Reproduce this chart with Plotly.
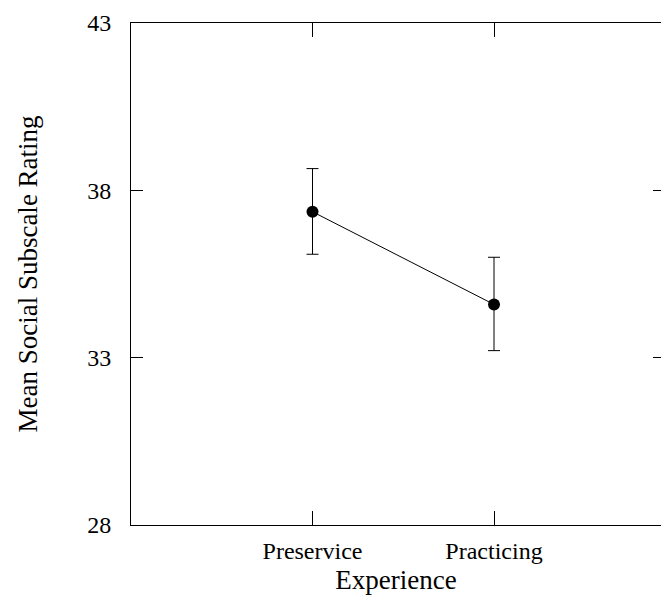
import plotly.graph_objects as go

categories = ["Preservice", "Practicing"]
x_pos = [1, 2]
means = [37.36, 34.59]
err_plus = [1.29, 1.41]
err_minus = [1.27, 1.38]
y_ticks = [28, 33, 38, 43]

FONT = "Liberation Serif, Times New Roman, serif"

fig = go.Figure()
fig.add_trace(go.Scatter(
    x=x_pos, y=means, mode="lines+markers",
    line=dict(color="black", width=1),
    marker=dict(color="black", size=12),
    error_y=dict(type="data", symmetric=False, array=err_plus, arrayminus=err_minus,
                 color="black", thickness=1, width=6),
    showlegend=False, hoverinfo="skip",
))
# invisible trace to carry right-side ticks
fig.add_trace(go.Scatter(x=x_pos, y=means, yaxis="y2", mode="markers",
                         marker=dict(opacity=0), showlegend=False, hoverinfo="skip"))

fig.update_layout(
    width=653, height=587,
    margin=dict(l=123, r=0, t=15, b=70),
    paper_bgcolor="white", plot_bgcolor="white",
    font=dict(family=FONT, color="black", size=24),
    xaxis=dict(
        range=[0, 2.92], tickvals=x_pos, ticktext=categories,
        showline=True, linecolor="black", linewidth=1, mirror="ticks",
        ticks="inside", ticklen=14, tickcolor="black", tickwidth=1,
        showgrid=False, zeroline=False, ticklabelstandoff=4,
        title=dict(text="Experience", font=dict(size=27, family=FONT), standoff=12),
    ),
    yaxis=dict(
        range=[28, 43], tickvals=y_ticks, ticktext=[str(v) for v in y_ticks],
        showline=True, linecolor="black", linewidth=1, mirror=False,
        ticks="inside", ticklen=12, tickcolor="black", tickwidth=1,
        showgrid=False, zeroline=False, ticklabelstandoff=14,
        title=dict(text="Mean Social Subscale Rating", font=dict(size=27, family=FONT), standoff=41),
    ),
    yaxis2=dict(
        range=[28, 43], tickvals=y_ticks, overlaying="y", side="right",
        showline=False, showticklabels=False, showgrid=False, zeroline=False,
        ticks="inside", ticklen=8, tickcolor="black", tickwidth=1,
    ),
)

fig.write_html("out.html")
